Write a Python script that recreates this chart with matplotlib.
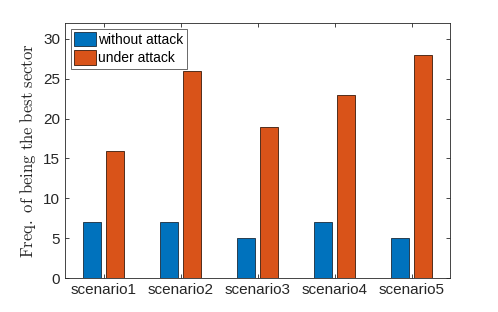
import matplotlib
matplotlib.use("Agg")
import matplotlib.pyplot as plt
import numpy as np

scenarios = ["scenario1", "scenario2", "scenario3", "scenario4", "scenario5"]
without_attack = [7, 7, 5, 7, 5]
under_attack = [16, 26, 19, 23, 28]

plt.rcParams["font.family"] = ["Liberation Sans", "DejaVu Sans"]
plt.rcParams["mathtext.fontset"] = "cm"

fig = plt.figure(figsize=(4.98, 3.12), dpi=100)
ax = fig.add_axes([65 / 498, 1 - 278 / 312, 385 / 498, 255 / 312])

x = np.arange(1, len(scenarios) + 1)
w = 0.23
ax.bar(x - 0.145, without_attack, w, color="#0072BD", edgecolor="#1a2a3a",
       linewidth=0.6, label="without attack")
ax.bar(x + 0.145, under_attack, w, color="#D95319", edgecolor="#3a1a0a",
       linewidth=0.6, label="under attack")

ax.set_xlim(0.5, 5.5)
ax.set_ylim(0, 32)
ax.set_xticks(x)
ax.set_xticklabels(scenarios)
ax.set_yticks([0, 5, 10, 15, 20, 25, 30])
ax.tick_params(direction="in", top=True, right=True, labelsize=11,
               colors="#262626", length=3, width=0.6)
for s in ax.spines.values():
    s.set_color("#262626")
    s.set_linewidth(0.6)

ax.set_ylabel(r"$\mathrm{Freq.\ of\ being\ the\ best\ sector}$", fontsize=12,
              color="#262626")

leg = ax.legend(loc="upper left", fontsize=10, frameon=True, fancybox=False,
                borderaxespad=0.4, handlelength=1.6, handleheight=1.2,
                handletextpad=0.15, borderpad=0.25, labelspacing=0.25)
leg.get_frame().set_edgecolor("#262626")
leg.get_frame().set_linewidth(0.6)

fig.savefig("out.png", dpi=100)
